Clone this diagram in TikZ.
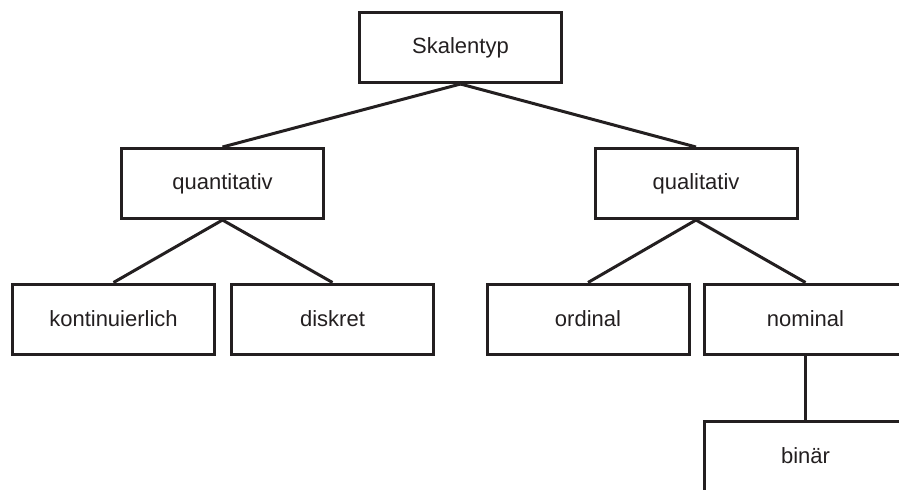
\documentclass[tikz,border=0pt]{standalone}
\usepackage{fontspec}
\setmainfont{Liberation Sans}
\definecolor{ink}{RGB}{35,31,32}
\begin{document}
\begin{tikzpicture}[x=0.5pt, y=-0.5pt,
        box/.style={draw=ink, line width=1.5pt, minimum width=101pt, minimum height=35pt, text=ink, font=\fontsize{11}{13}\selectfont},
        ast/.style={line width=1.5pt, color=ink}]
                \clip (0,0) rectangle (899,489);
                \node[box] (skala)  at (460.5,47.5) {Skalentyp};
                \node[box] (quanti) at (222.5,183.5) {quantitativ};
                \node[box] (quali)  at (696,183.5) {qualitativ};
                \node[box] (konti)  at (113.5,319) {kontinuierlich};
                \node[box] (diskr)  at (332.5,319) {diskret};
                \node[box] (ordi)   at (588,319) {ordinal};
                \node[box] (nomi)   at (805.5,319) {nominal};
                \node[box] (bina)   at (805.5,456) {binär};
                \draw[ast] (skala.south) -- (quanti.north);
                \draw[ast] (skala.south) -- (quali.north);
                \draw[ast] (quanti.south) -- (konti.north);
                \draw[ast] (quanti.south) -- (diskr.north);
                \draw[ast] (quali.south) -- (ordi.north);
                \draw[ast] (quali.south) -- (nomi.north);
                \draw[ast] (nomi.south) -- (bina.north);
            \end{tikzpicture}
\end{document}
